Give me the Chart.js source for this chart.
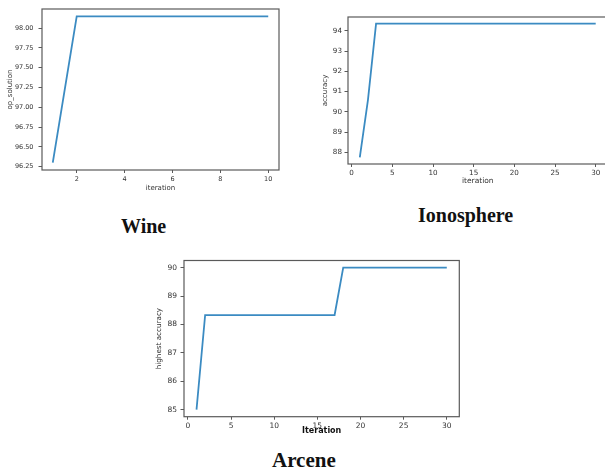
<!DOCTYPE html>
<html>
<head>
<meta charset="utf-8">
<script src="https://cdn.jsdelivr.net/npm/chart.js@4.4.0/dist/chart.umd.min.js"></script>
<style>
  html, body { margin:0; padding:0; background:#fff; }
  body { width:605px; height:471px; overflow:hidden; position:relative; }
  canvas { position:absolute; }
  .cap { position:absolute; font-family:"Liberation Serif", "Times New Roman", serif; font-weight:bold; line-height:1; color:#111; white-space:nowrap; }
</style>
</head>
<body>
<canvas id="wine" width="290" height="200" style="left:0px;top:0px"></canvas>
<canvas id="iono" width="310" height="195" style="left:300px;top:0px"></canvas>
<canvas id="arcene" width="320" height="190" style="left:150px;top:250px"></canvas>

<div class="cap" style="left:121px;top:216px;font-size:20px">Wine</div>
<div class="cap" style="left:418px;top:205px;font-size:20px">Ionosphere</div>
<div class="cap" style="left:272px;top:450px;font-size:21px">Arcene</div>

<script>
// Wine
var wineIter = [1, 2, 3, 4, 5, 6, 7, 8, 9, 10];
var wineVals = [96.30, 98.15, 98.15, 98.15, 98.15, 98.15, 98.15, 98.15, 98.15, 98.15];
var wineXTicks = [2, 4, 6, 8, 10];
var wineYTicks = [96.25, 96.50, 96.75, 97.00, 97.25, 97.50, 97.75, 98.00];

// Ionosphere
var ionoIter = [1, 2, 3, 4, 5, 6, 7, 8, 9, 10, 11, 12, 13, 14, 15,
                16, 17, 18, 19, 20, 21, 22, 23, 24, 25, 26, 27, 28, 29, 30];
var ionoVals = [87.75, 90.58, 94.35, 94.35, 94.35, 94.35, 94.35, 94.35, 94.35, 94.35,
                94.35, 94.35, 94.35, 94.35, 94.35, 94.35, 94.35, 94.35, 94.35, 94.35,
                94.35, 94.35, 94.35, 94.35, 94.35, 94.35, 94.35, 94.35, 94.35, 94.35];
var ionoXTicks = [0, 5, 10, 15, 20, 25, 30];
var ionoYTicks = [88, 89, 90, 91, 92, 93, 94];

// Arcene
var arceneIter = [1, 2, 3, 4, 5, 6, 7, 8, 9, 10, 11, 12, 13, 14, 15,
                  16, 17, 18, 19, 20, 21, 22, 23, 24, 25, 26, 27, 28, 29, 30];
var arceneVals = [85.00, 88.33, 88.33, 88.33, 88.33, 88.33, 88.33, 88.33, 88.33, 88.33,
                  88.33, 88.33, 88.33, 88.33, 88.33, 88.33, 88.33, 90.00, 90.00, 90.00,
                  90.00, 90.00, 90.00, 90.00, 90.00, 90.00, 90.00, 90.00, 90.00, 90.00];
var arceneXTicks = [0, 5, 10, 15, 20, 25, 30];
var arceneYTicks = [85, 86, 87, 88, 89, 90];

var lineColor = '#3b8bc2';
var frameColor = '#5a5a5a';
var sans = '"DejaVu Sans", sans-serif';

// box round the plot area, like matplotlib spines
var framePlugin = {
  id: 'frame',
  afterDatasetsDraw: function(chart) {
    var a = chart.chartArea, ctx = chart.ctx;
    ctx.save();
    ctx.strokeStyle = frameColor;
    ctx.lineWidth = 1.2;
    ctx.strokeRect(a.left, a.top, a.right - a.left, a.bottom - a.top);
    ctx.restore();
  }
};

function drawPlot(id, xs, ys, o) {
  var pts = xs.map(function(x, i) { return {x: x, y: ys[i]}; });
  new Chart(document.getElementById(id), {
    type: 'line',
    data: { datasets: [{ data: pts, borderColor: lineColor, borderWidth: 1.8,
                         pointRadius: 0, tension: 0, fill: false }] },
    options: {
      responsive: false, animation: false, devicePixelRatio: 1,
      layout: { padding: { top: o.top, right: o.right, left: 0, bottom: 0 } },
      plugins: { legend: { display: false }, tooltip: { enabled: false } },
      scales: {
        x: {
          type: 'linear', min: o.xMin, max: o.xMax,
          afterBuildTicks: function(s) { s.ticks = o.xTicks.map(function(v) { return {value: v}; }); },
          afterFit: function(s) { s.height = o.xH; },
          ticks: { font: { family: sans, size: o.tickSize }, color: '#333', padding: o.xPad,
                   maxRotation: 0, autoSkip: false },
          grid: { drawOnChartArea: false, tickLength: 3, color: frameColor },
          border: { display: false },
          title: { display: true, text: o.xTitle, color: o.xTitleColor || '#333',
                   font: { family: sans, size: o.xTitleSize, weight: o.xTitleWeight || 'normal' },
                   padding: { top: 0, bottom: o.xTitlePad } }
        },
        y: {
          min: o.yMin, max: o.yMax,
          afterBuildTicks: function(s) { s.ticks = o.yTicks.map(function(v) { return {value: v}; }); },
          afterFit: function(s) { s.width = o.yW; },
          ticks: { font: { family: sans, size: o.tickSize }, color: '#333', padding: o.yPad,
                   callback: o.fmt },
          grid: { drawOnChartArea: false, tickLength: 3.5, color: frameColor },
          border: { display: false },
          title: { display: true, text: o.yTitle, color: '#333',
                   font: { family: sans, size: o.yTitleSize },
                   padding: { top: o.yTitlePad, bottom: 0 } }
        }
      }
    },
    plugins: [framePlugin]
  });
}

drawPlot('wine', wineIter, wineVals, {
  top: 9, right: 11, yW: 42, xH: 30,
  xMin: 0.55, xMax: 10.45, yMin: 96.2075, yMax: 98.2425,
  xTicks: wineXTicks, yTicks: wineYTicks,
  fmt: function(v) { return v.toFixed(2); },
  tickSize: 6.5, xPad: 2, yPad: 5,
  xTitle: 'iteration', xTitleSize: 7, xTitlePad: 8,
  yTitle: 'op_solution', yTitleSize: 7, yTitlePad: 6
});

drawPlot('iono', ionoIter, ionoVals, {
  top: 17, right: 2.5, yW: 48, xH: 31,
  xMin: -0.45, xMax: 31.45, yMin: 87.42, yMax: 94.68,
  xTicks: ionoXTicks, yTicks: ionoYTicks,
  fmt: function(v) { return String(v); },
  tickSize: 7.2, xPad: 2, yPad: 2.5,
  xTitle: 'iteration', xTitleSize: 7.5, xTitlePad: 9.5,
  yTitle: 'accuracy', yTitleSize: 7, yTitlePad: 21
});

drawPlot('arcene', arceneIter, arceneVals, {
  top: 10.5, right: 10.7, yW: 34, xH: 23.3,
  xMin: -0.45, xMax: 31.45, yMin: 84.75, yMax: 90.25,
  xTicks: arceneXTicks, yTicks: arceneYTicks,
  fmt: function(v) { return String(v); },
  tickSize: 7.5, xPad: 1.5, yPad: 3.5,
  xTitle: 'Iteration', xTitleSize: 8, xTitleWeight: 'bold', xTitleColor: '#111', xTitlePad: 4.5,
  yTitle: 'highest accuracy', yTitleSize: 7.2, yTitlePad: 5
});
</script>
</body>
</html>
